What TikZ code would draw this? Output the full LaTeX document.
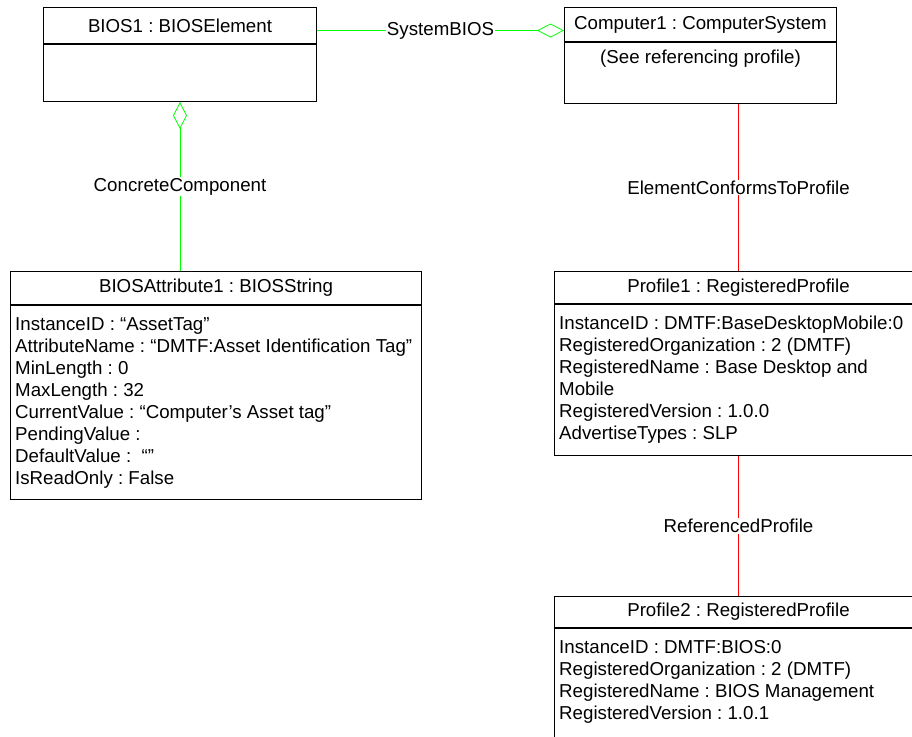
\documentclass[tikz,border=0pt]{standalone}
\usepackage{fontspec}
\setmainfont{Liberation Sans}
\usetikzlibrary{arrows.meta,positioning}
\frenchspacing

\definecolor{aggrgreen}{RGB}{0,255,0}
\definecolor{confred}{RGB}{255,0,0}

\tikzset{
  chead/.style={draw, line width=1pt, anchor=north west, inner sep=0pt},
  cbody/.style={draw, line width=1pt, anchor=north west, inner sep=0pt},
  attrs/.style={anchor=north west, align=left, inner xsep=5pt, inner ysep=12pt},
  aggr/.style={draw=aggrgreen, line width=0.8pt, {Diamond[open,length=27pt,width=14pt]}-},
  conf/.style={draw=confred, line width=0.8pt},
  linklabel/.style={fill=white, inner sep=1pt}
}

\begin{document}
\begin{tikzpicture}[x=1pt, y=-1pt, every node/.style={font=\fontsize{18.7}{22}\selectfont\frenchspacing}]
\useasboundingbox (0,0) rectangle (912,736);
\clip (0,0) rectangle (912,736);
% classes
\node[chead, minimum width=273, minimum height=36] (bioshead) at (43,7) {BIOS1 : BIOSElement};
\node[cbody, minimum width=273, minimum height=57] (biosbody) at (bioshead.south west) {};
\node[chead, minimum width=272, minimum height=34] (comphead) at (564,7) {Computer1 : ComputerSystem};
\node[cbody, minimum width=272, minimum height=61,
  label={[attrs, anchor=north, inner ysep=8pt]north:{(See referencing profile)}}] (compbody) at (comphead.south west) {};
\node[chead, minimum width=411, minimum height=33] (attrhead) at (10,271) {BIOSAttribute1 : BIOSString};
\node[cbody, minimum width=411, minimum height=194,
  label={[attrs]north west:{InstanceID : “AssetTag”\\
    AttributeName : “DMTF:Asset Identification Tag”\\
    MinLength : 0\\
    MaxLength : 32\\
    CurrentValue : “Computer’s Asset tag”\\
    PendingValue :\\
    DefaultValue : \ “”\\
    IsReadOnly : False}}] (attrbody) at (attrhead.south west) {};
\node[chead, minimum width=368, minimum height=32] (prof1head) at (554,271) {Profile1 : RegisteredProfile};
\node[cbody, minimum width=368, minimum height=151,
  label={[attrs]north west:{InstanceID : DMTF:BaseDesktopMobile:0\\
    RegisteredOrganization : 2 (DMTF)\\
    RegisteredName : Base Desktop and\\
    Mobile\\
    RegisteredVersion : 1.0.0\\
    AdvertiseTypes : SLP}}] (prof1body) at (prof1head.south west) {};
\node[chead, minimum width=368, minimum height=31] (prof2head) at (554,596) {Profile2 : RegisteredProfile};
\node[cbody, minimum width=368, minimum height=130,
  label={[attrs]north west:{InstanceID : DMTF:BIOS:0\\
    RegisteredOrganization : 2 (DMTF)\\
    RegisteredName : BIOS Management\\
    RegisteredVersion : 1.0.1}}] (prof2body) at (prof2head.south west) {};
% associations
\draw[aggr] ([yshift=-6pt]comphead.west) -- node[linklabel] {SystemBIOS} ([yshift=-5pt]bioshead.east);
\draw[aggr] (biosbody.south) -- node[linklabel] {ConcreteComponent} (biosbody.south |- attrhead.north);
\draw[conf] (prof1head.north |- compbody.south) -- node[linklabel] {ElementConformsToProfile} (prof1head.north);
\draw[conf] (prof1body.south) -- node[linklabel] {ReferencedProfile} (prof2head.north);
\end{tikzpicture}
\end{document}
